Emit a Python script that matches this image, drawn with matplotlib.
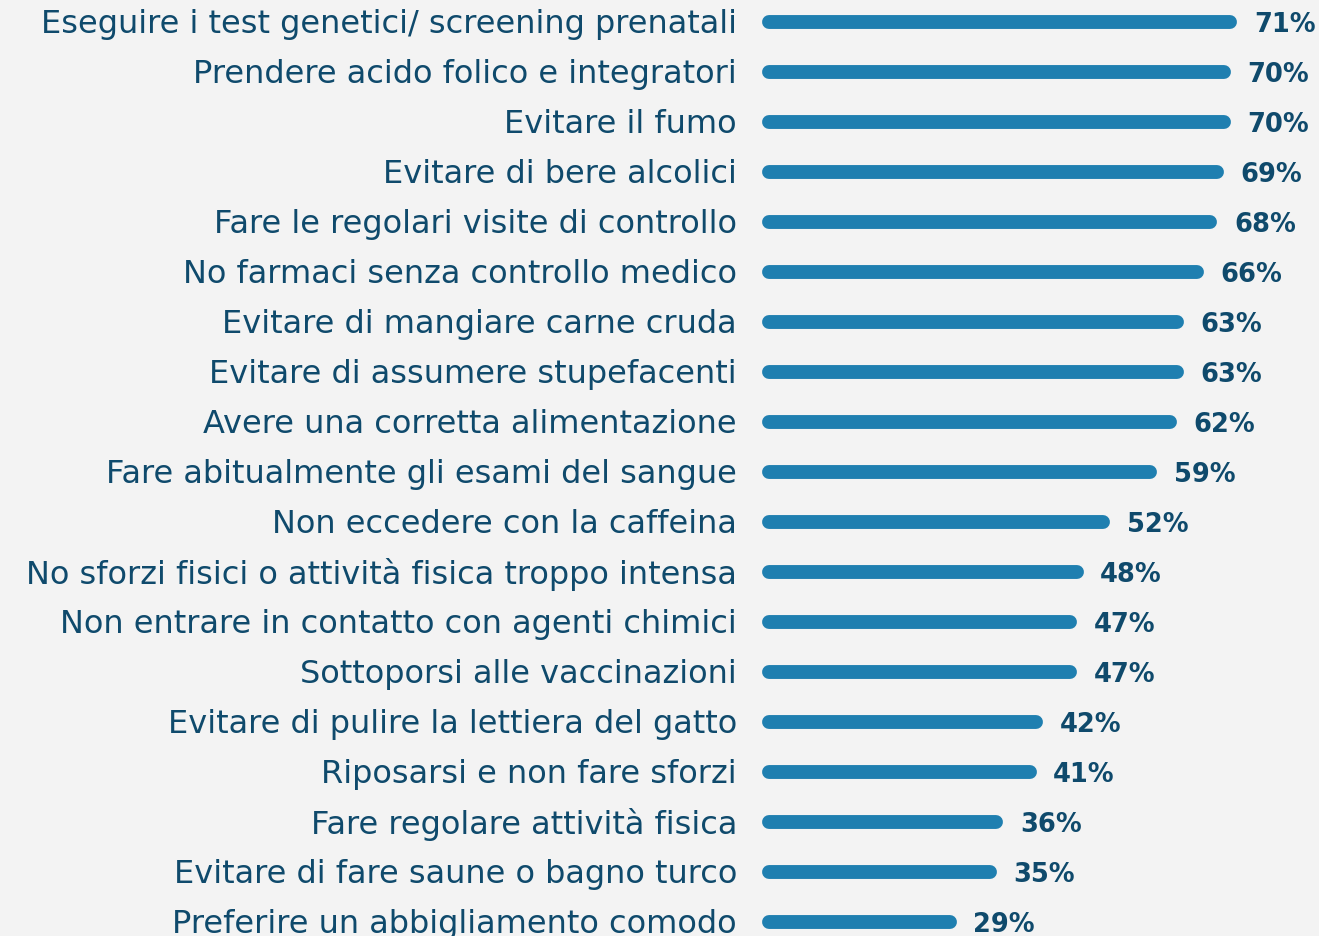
import matplotlib.pyplot as plt

labels = [
    "Eseguire i test genetici/ screening prenatali",
    "Prendere acido folico e integratori",
    "Evitare il fumo",
    "Evitare di bere alcolici",
    "Fare le regolari visite di controllo",
    "No farmaci senza controllo medico",
    "Evitare di mangiare carne cruda",
    "Evitare di assumere stupefacenti",
    "Avere una corretta alimentazione",
    "Fare abitualmente gli esami del sangue",
    "Non eccedere con la caffeina",
    "No sforzi fisici o attività fisica troppo intensa",
    "Non entrare in contatto con agenti chimici",
    "Sottoporsi alle vaccinazioni",
    "Evitare di pulire la lettiera del gatto",
    "Riposarsi e non fare sforzi",
    "Fare regolare attività fisica",
    "Evitare di fare saune o bagno turco",
    "Preferire un abbigliamento comodo",
]
values = [71, 70, 70, 69, 68, 66, 63, 63, 62, 59, 52, 48, 47, 47, 42, 41, 36, 35, 29]

bar_color = "#1f7fb0"
text_color = "#0f4a6c"
bg = "#f3f3f3"

px = 6.69  # pixels per percent
fig = plt.figure(figsize=(13.19, 9.37), dpi=100, facecolor=bg)
ax = fig.add_axes([0, 0, 1, 1])
ax.set_facecolor(bg)
ax.set_xlim(-762 / px, (1319 - 762) / px)
ax.set_ylim(18 + 14 / 50, -23 / 50)
ax.axis("off")

cap = 6.5 / px
for i, (lab, v) in enumerate(zip(labels, values)):
    ax.plot([cap, v - cap], [i, i], color=bar_color, lw=10, solid_capstyle="round")
    ax.text(-25 / px, i + 0.03, lab, ha="right", va="center", fontsize=23,
            color=text_color, family="DejaVu Sans")
    ax.text(v + 17 / px, i + 0.05, f"{v}%", ha="left", va="center", fontsize=18.5,
            color=text_color, family="DejaVu Sans", fontweight="bold")

fig.savefig("out.png", dpi=100, facecolor=bg)
